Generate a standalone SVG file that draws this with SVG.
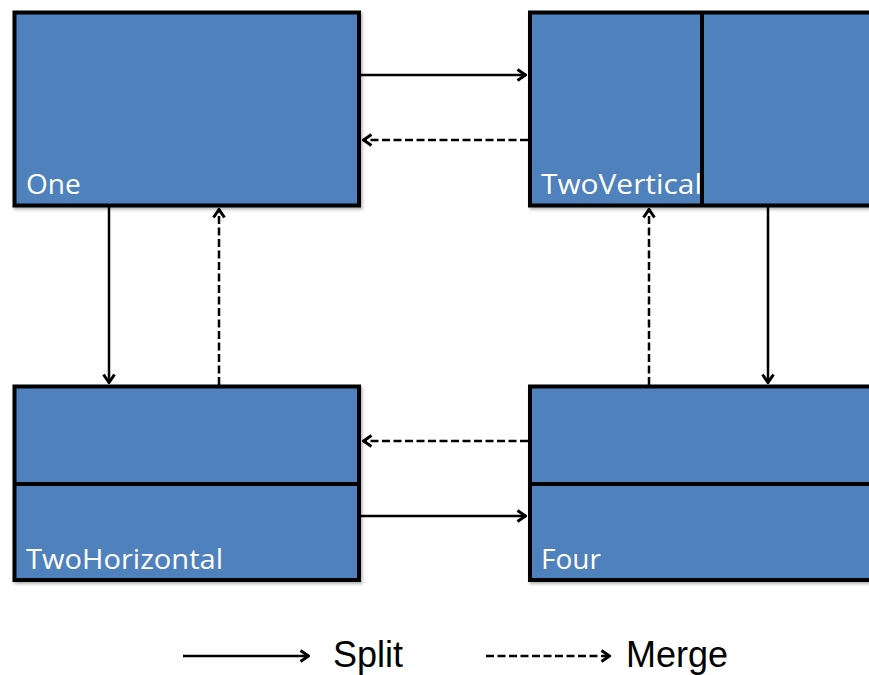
<svg xmlns="http://www.w3.org/2000/svg" width="869" height="675" viewBox="0 0 869 675">
<defs>
<style>
.box{fill:#4f81bd;stroke:#000;stroke-width:4;filter:url(#sh)}
.div{stroke:#000;stroke-width:4;fill:none}
.lbl{font-family:"Open Sans","Noto Sans",sans-serif;font-size:28px;fill:#fff}
.c{stroke:#000;stroke-width:2.5;fill:none;marker-end:url(#ah)}
.d{stroke-dasharray:8 3.5}
.leg{font-family:"Liberation Sans",Arial,sans-serif;font-size:36px;fill:#000}
</style>
<filter id="sh" x="-5%" y="-5%" width="115%" height="115%">
<feDropShadow dx="1.5" dy="2" stdDeviation="1.5" flood-color="#000" flood-opacity="0.3"/>
</filter>
<marker id="ah" viewBox="0 0 12 14" refX="11" refY="7" markerWidth="12" markerHeight="14" markerUnits="userSpaceOnUse" orient="auto">
<path d="M2.5,1.5 L10.5,7 L2.5,12.5" fill="none" stroke="#000" stroke-width="3" stroke-linejoin="miter"/>
</marker>
</defs>
<g id="node-one">
<rect class="box" x="14.5" y="12.5" width="344.5" height="193"/>
<text class="lbl" x="26" y="194">One</text>
</g>
<g id="node-twovertical">
<rect class="box" x="530" y="12.5" width="360" height="193"/>
<line class="div" x1="702" y1="12.5" x2="702" y2="205.5"/>
<text class="lbl" x="541" y="194" textLength="161" lengthAdjust="spacingAndGlyphs">TwoVertical</text>
</g>
<g id="node-twohorizontal">
<rect class="box" x="14.5" y="386.5" width="344.5" height="193.5"/>
<line class="div" x1="14.5" y1="484" x2="359" y2="484"/>
<text class="lbl" x="26" y="569" textLength="197" lengthAdjust="spacingAndGlyphs">TwoHorizontal</text>
</g>
<g id="node-four">
<rect class="box" x="530" y="386.5" width="360" height="193.5"/>
<line class="div" x1="530" y1="484" x2="890" y2="484"/>
<text class="lbl" x="541" y="569">Four</text>
</g>
<g id="connectors">
<line class="c" x1="361" y1="75" x2="526" y2="75"/>
<line class="c d" x1="528" y1="140" x2="363" y2="140"/>
<line class="c" x1="109" y1="207" x2="109" y2="383"/>
<line class="c d" x1="219" y1="385" x2="219" y2="209"/>
<line class="c d" x1="649" y1="385" x2="649" y2="209"/>
<line class="c" x1="768" y1="207" x2="768" y2="383"/>
<line class="c d" x1="528" y1="441" x2="363" y2="441"/>
<line class="c" x1="361" y1="516" x2="526" y2="516"/>
</g>
<g id="legend">
<line class="c" x1="183" y1="656" x2="309" y2="656"/>
<text class="leg" x="333" y="667">Split</text>
<line class="c d" x1="486" y1="656" x2="610" y2="656"/>
<text class="leg" x="626" y="667">Merge</text>
</g>
</svg>
